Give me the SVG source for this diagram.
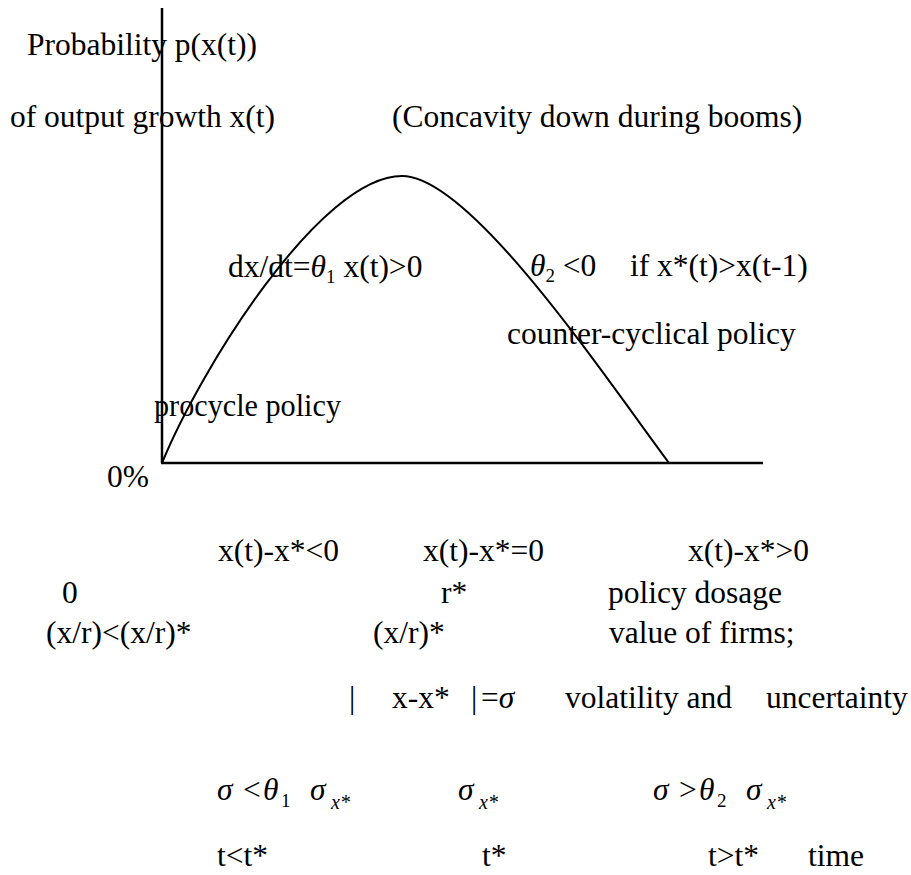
<svg xmlns="http://www.w3.org/2000/svg" width="911" height="875" viewBox="0 0 911 875">
<style>
text{font-family:"Liberation Serif","Times New Roman",serif;font-size:31.5px;fill:#000}
.g{font-style:italic}
.sub{font-size:19px}
.subi{font-size:20px;font-style:italic}
.axis{stroke:#000;stroke-width:2.5;fill:none}
.curve{stroke:#000;stroke-width:2;fill:none}
</style>
<rect width="911" height="875" fill="#fff"/>
<g id="connectors">
<line class="axis" x1="162" y1="8" x2="162" y2="463"/>
<line class="axis" x1="161" y1="463" x2="763" y2="463"/>
<path id="curve" class="curve" d="M162,463 C200,370 320,176 402,176 C470,176 600,370 669,463"/>
</g>
<g id="y-label">
<text x="27" y="55">Probability p(x(t))</text>
<text x="10" y="127">of output growth x(t)</text>
</g>
<g id="concavity"><text x="392" y="127">(Concavity down during booms)</text></g>
<g id="boom-left"><text x="228" y="277">dx/dt=<tspan class="g">θ</tspan><tspan class="sub" dy="6">1</tspan><tspan dy="-6"> x(t)&gt;0</tspan></text></g>
<g id="boom-right"><text x="530" y="276"><tspan class="g">θ</tspan><tspan class="sub" dy="6">2</tspan><tspan dy="-6"> &lt;0</tspan><tspan x="630">if x*(t)&gt;x(t-1)</tspan></text></g>
<g id="counter"><text x="507" y="344">counter-cyclical policy</text></g>
<g id="procycle"><text x="154" y="416" textLength="187" lengthAdjust="spacingAndGlyphs">procycle policy</text></g>
<g id="zero-pct"><text x="107" y="487">0%</text></g>
<g id="row-gap">
<text x="218" y="561">x(t)-x*&lt;0</text>
<text x="423" y="561">x(t)-x*=0</text>
<text x="688" y="561">x(t)-x*&gt;0</text>
</g>
<g id="row-dosage">
<text x="62" y="603">0</text>
<text x="441" y="603">r*</text>
<text x="608" y="603">policy dosage</text>
</g>
<g id="row-value">
<text x="46" y="643">(x/r)&lt;(x/r)*</text>
<text x="373" y="643">(x/r)*</text>
<text x="609" y="643">value of firms;</text>
</g>
<g id="row-vol">
<text x="349" y="708">|</text>
<text x="392" y="708">x-x*</text>
<text x="471" y="708">|</text>
<text x="481" y="708">=<tspan class="g">σ</tspan></text>
<text x="565" y="708">volatility and</text>
<text x="766" y="708">uncertainty</text>
</g>
<g id="row-sigma">
<text y="800"><tspan class="g" x="217">σ</tspan><tspan x="243">&lt;</tspan><tspan class="g" x="263">θ</tspan><tspan class="sub" x="281" dy="7">1</tspan><tspan class="g" x="310" dy="-7">σ</tspan><tspan class="subi" x="331" dy="9">x*</tspan></text>
<text y="800"><tspan class="g" x="458">σ</tspan><tspan class="subi" x="479" dy="9">x*</tspan></text>
<text y="800"><tspan class="g" x="653">σ</tspan><tspan x="679">&gt;</tspan><tspan class="g" x="699">θ</tspan><tspan class="sub" x="717" dy="7">2</tspan><tspan class="g" x="746" dy="-7">σ</tspan><tspan class="subi" x="767" dy="9">x*</tspan></text>
</g>
<g id="row-time">
<text x="217" y="866">t&lt;t*</text>
<text x="482" y="866">t*</text>
<text x="708" y="866">t&gt;t*</text>
<text x="808" y="866">time</text>
</g>
</svg>
